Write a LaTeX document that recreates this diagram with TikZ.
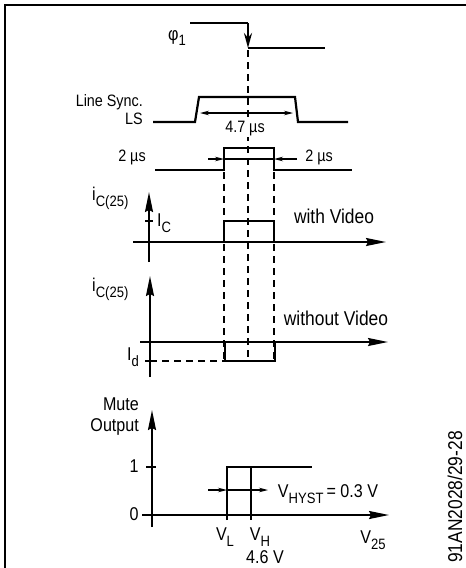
\documentclass[tikz,border=0pt]{standalone}
\usepackage{fontspec}
\setmainfont[FakeStretch=0.87]{Liberation Sans}
\usetikzlibrary{arrows.meta}
\newcommand\lowsub[1]{\raisebox{-0.32em}{\fontsize{15}{15}\selectfont #1}}
\begin{document}
\begin{tikzpicture}[x=1pt,y=-1pt,
  sig/.style={line width=2.2pt},
  thin sig/.style={line width=1.8pt},
  axis/.style={line width=1.8pt,-{Stealth[length=20pt,width=8pt,inset=2pt]}},
  dsh/.style={line width=1.4pt,dash pattern=on 7pt off 5pt},
  dim/.style={line width=1.1pt,-{Stealth[length=9pt,width=4.5pt]}},
  lbl/.style={font=\fontsize{18.5}{21}\selectfont, inner sep=0pt},
  big/.style={font=\fontsize{20}{23}\selectfont, inner sep=0pt},
  small/.style={font=\fontsize{16.5}{18}\selectfont, inner sep=0pt},
]
\useasboundingbox (0,0) rectangle (466,568);
% frame
\draw[line width=1.2pt] (5,568) -- (5,5) -- (466,5);

% phi1
\coordinate (p0) at (190,23);
\coordinate (p1) at (248,23);
\coordinate (p2) at (248,48);
\coordinate (p3) at (325,48);
\draw[sig] (p0) -- (p1);
\draw[sig,-{Stealth[length=15pt,width=8pt]}] (p1) -- (p2);
\draw[sig] (p2) -- (p3);
\node[lbl] (phi) at (177,38) {φ\lowsub{1}};

% Line Sync
\coordinate (l0) at (153,122);
\coordinate (l1) at (195,122);
\coordinate (l2) at (199,97);
\coordinate (l3) at (295,97);
\coordinate (l4) at (298,122);
\coordinate (l5) at (348,122);
\draw[sig] (l0) -- (l1) -- (l2) -- (l3) -- (l4) -- (l5);
\node[small,align=right,anchor=east] (ls) at (143,110) {Line Sync.\\LS};
\coordinate (d47a) at (200,113);
\coordinate (d47b) at (293,113);
\draw[line width=1.1pt,{Stealth[length=9pt,width=4.5pt]}-{Stealth[length=9pt,width=4.5pt]}] (d47a) -- (d47b);

% 2 us pulse
\coordinate (s0) at (155,170);
\coordinate (s1) at (224,170);
\coordinate (s2) at (224,148);
\coordinate (s3) at (274,148);
\coordinate (s4) at (274,170);
\coordinate (s5) at (352,170);
\draw[sig] (s0) -- (s1) -- (s2) -- (s3) -- (s4) -- (s5);
\coordinate (a2l) at (208,159);
\coordinate (a2li) at (224,159);
\coordinate (a2ri) at (274,159);
\coordinate (a2r) at (297,159);
\draw[dim] (a2l) -- (a2li);
\draw[line width=1.1pt] (a2li) -- (a2ri);
\draw[dim] (a2r) -- (a2ri);
\node[small] (t2l) at (132,157) {2 µs};
\node[small] (t2r) at (319,157) {2 µs};

% dashed verticals
\coordinate (dc0) at (248,50);
\coordinate (dc1) at (248,358);
\coordinate (dl0) at (224,172);
\coordinate (dl1) at (224,361);
\coordinate (dr0) at (274,172);
\coordinate (dr1) at (274,361);
\draw[dsh] (dc0) -- (dc1);
\draw[dsh] (dl0) -- (dl1);
\draw[dsh] (dr0) -- (dr1);
\node[small,fill=white,inner xsep=1pt,inner ysep=0.5pt] (t47) at (245,129) {4.7 µs};

% ic(25) with video
\coordinate (v1b) at (149,262);
\coordinate (v1t) at (149,192);
\coordinate (h1l) at (133,242);
\coordinate (h1r) at (386,242);
\draw[axis] (v1b) -- (v1t);
\draw[axis] (h1l) -- (h1r);
\draw[line width=1.2pt] (145,221) -- (153,221);
\draw[thin sig] (224,242) -- (224,221) -- (274,221) -- (274,242);
\node[lbl,anchor=west] (ic1) at (92,198) {i\lowsub{C(25)}};
\node[lbl,anchor=west] (icl) at (157,223) {I\lowsub{C}};
\node[big] (wv) at (334,216) {with Video};

% without video
\coordinate (v2b) at (150,377);
\coordinate (v2t) at (150,276);
\coordinate (h2l) at (140,342);
\coordinate (h2r) at (388,342);
\draw[axis] (v2b) -- (v2t);
\draw[axis] (h2l) -- (h2r);
\draw[thin sig] (225,342) -- (225,361) -- (275,361) -- (275,342);
\draw[dsh] (150,361) -- (225,361);
\draw[line width=1.2pt] (145,361) -- (154,361);
\node[lbl,anchor=west] (ic2) at (92,289) {i\lowsub{C(25)}};
\node[lbl,anchor=east] (idl) at (139,357) {I\lowsub{d}};
\node[big] (wov) at (336,318) {without Video};

% mute output
\coordinate (v3b) at (152,527);
\coordinate (v3t) at (152,410);
\coordinate (h3l) at (147,515);
\coordinate (h3r) at (389,515);
\draw[axis] (v3b) -- (v3t);
\draw[axis] (h3l) -- (h3r);
\draw[line width=1.2pt] (142,515) -- (152,515);
\draw[line width=1.2pt] (146,467) -- (156,467);
\node[lbl] (one) at (134,466) {1};
\node[lbl] (zero) at (134,514) {0};
\node[lbl,align=right,anchor=east] (mute) at (139,417) {Mute\\Output};
\draw[sig] (227,520) -- (227,467) -- (312,467);
\draw[sig] (251,467) -- (251,520);
\draw[dim] (208,490) -- (227,490);
\draw[line width=1.1pt] (227,490) -- (251,490);
\draw[dim] (251,490) -- (268,490);
\node[lbl] (vl) at (225,537) {V\lowsub{L}};
\node[lbl] (vh) at (260,537) {V\lowsub{H}};
\node[lbl] (v46) at (265,557) {4.6 V};
\node[lbl] (v25) at (373,540) {V\lowsub{25}};
\node[lbl] (vhyst) at (328,494) {V\lowsub{HYST}\,= 0.3 V};
\node[big,rotate=90] (code) at (455,497) {91AN2028/29-28};
\end{tikzpicture}
\end{document}
